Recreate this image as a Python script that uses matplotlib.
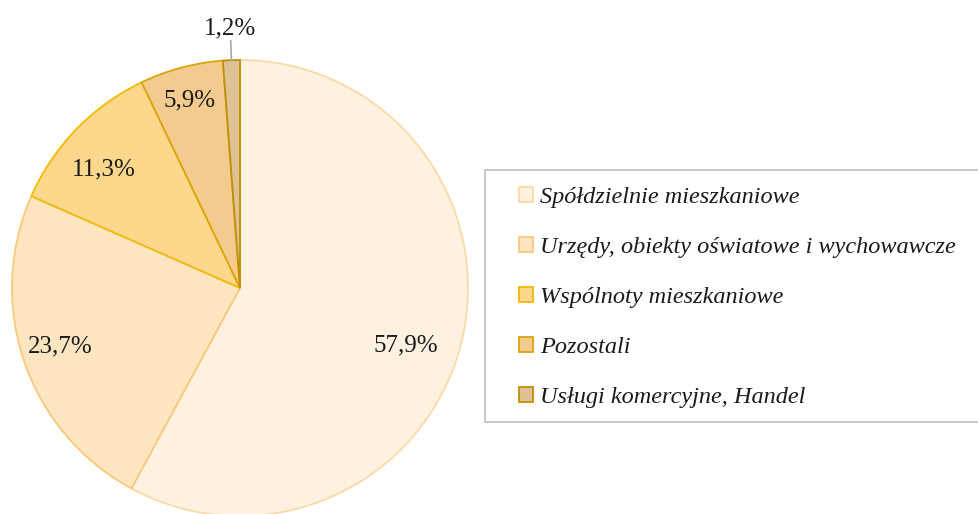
import numpy as np
import matplotlib.pyplot as plt
from matplotlib.patches import Rectangle

# Dane
kategorie = ["Spółdzielnie mieszkaniowe",
             "Urzędy, obiekty oświatowe i wychowawcze",
             "Wspólnoty mieszkaniowe",
             "Pozostali",
             "Usługi komercyjne, Handel"]
udzialy = [57.9, 23.7, 11.3, 5.9, 1.2]
etykiety = ["57,9%", "23,7%", "11,3%", "5,9%", "1,2%"]

kolory = ["#FEF1DF", "#FDE5C0", "#FDD78B", "#F4CB8F", "#DEC195"]
obramowania = ["#FAD9A8", "#F9C87D", "#F3B904", "#DAA409", "#BF9000"]
odleglosci = [0.77, 0.83, 0.79, 0.85, 1.14]
przesuniecia = [-5, -1, 3, 0, 0]  # korekta kąta etykiet (stopnie)

plt.rcParams["font.family"] = ["Liberation Serif", "DejaVu Serif"]

fig = plt.figure(figsize=(9.79, 5.14), dpi=100)
W, H = 979, 514
cx, cy, r = 240, 288, 228
ax = fig.add_axes([(cx - r) / W, (H - cy - r) / H, 2 * r / W, 2 * r / H])

wedges, _ = ax.pie(udzialy, colors=kolory, startangle=90, counterclock=False,
                   radius=1, wedgeprops=dict(linewidth=1.3))
for w, ec in zip(wedges, obramowania):
    w.set_edgecolor(ec)
ax.set_xlim(-1, 1)
ax.set_ylim(-1, 1)
ax.set_aspect("equal")

# Etykiety procentowe
for i, w in enumerate(wedges):
    kat = np.deg2rad((w.theta1 + w.theta2) / 2 + przesuniecia[i])
    d = odleglosci[i]
    ax.text(d * np.cos(kat), d * np.sin(kat), etykiety[i], ha="center", va="center",
            fontsize=18, color="#1a1a1a", clip_on=False)
    if d > 1:
        ax.plot([np.cos(kat), 1.085 * np.cos(kat)], [np.sin(kat), 1.085 * np.sin(kat)],
                color="#A6A6A6", linewidth=1.2, clip_on=False)

# Ramka legendy
fig.patches.append(Rectangle((485 / W, 1 - 422 / H), 0.55, 252 / H,
                             transform=fig.transFigure, facecolor="white",
                             edgecolor="#BFBFBF", linewidth=1.2, zorder=0))

leg = fig.legend(wedges, kategorie, loc="upper left",
                 bbox_to_anchor=(519 / W, 1 - 187 / H),
                 borderaxespad=0, prop=dict(style="italic", size=17.5),
                 handlelength=0.58, handleheight=0.58, handletextpad=0.3,
                 labelspacing=1.19, borderpad=0, frameon=False)
for t in leg.get_texts():
    t.set_color("#1a1a1a")

fig.savefig("out.png", dpi=100)
